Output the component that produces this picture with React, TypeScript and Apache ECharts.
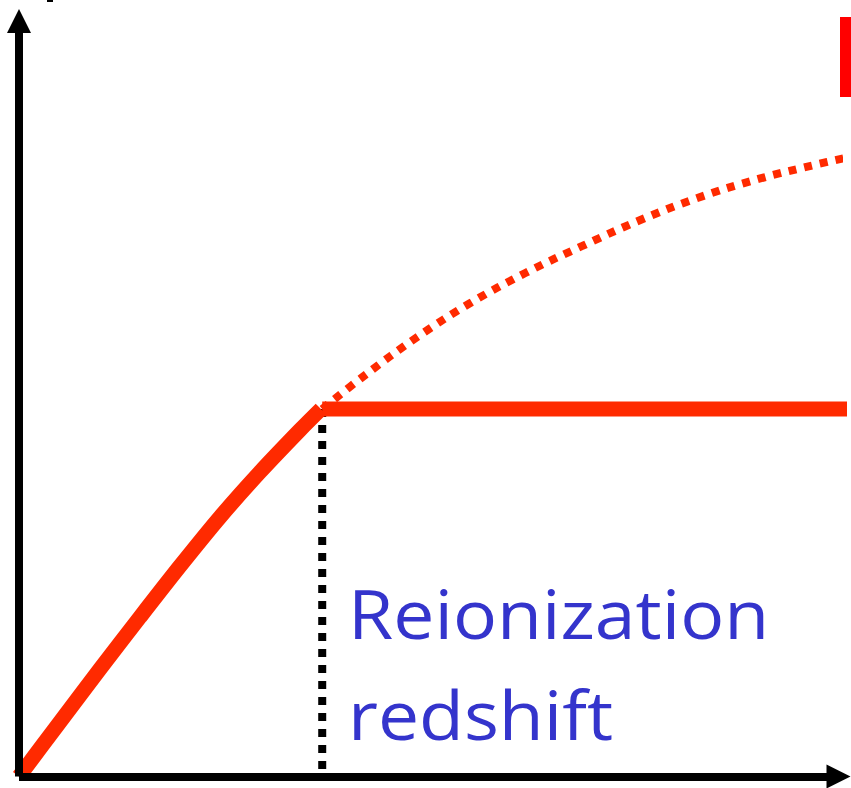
import React, { useEffect, useRef } from "react";
import * as echarts from "echarts";

// Schematic: optical depth vs redshift (arbitrary units, 0..10 on both axes)
const reionX = 3.7;
const plateauY = 4.864;
const risingCurve: [number, number][] = [
  [0, 0],
  [0.5, 0.721],
  [0.988, 1.423],
  [1.477, 2.111],
  [1.965, 2.786],
  [2.453, 3.434],
  [2.941, 4.03],
  [3.429, 4.586],
  [3.685, 4.864],
];
const plateauLine: [number, number][] = [
  [3.7, 4.864],
  [10.15, 4.864],
];
const extrapolatedCurve: [number, number][] = [
  [3.7, 4.864],
  [4.225, 5.315],
  [4.86, 5.817],
  [5.507, 6.267],
  [6.178, 6.664],
  [6.874, 7.022],
  [7.582, 7.366],
  [8.278, 7.657],
  [9.023, 7.909],
  [9.756, 8.107],
  [10.085, 8.187],
];
const reionMarker: [number, number][] = [
  [reionX, plateauY],
  [reionX, 0],
];
const labelLines = ["Reionization", "redshift"];

const RED = "#FF2A00";
const BLUE = "#3434CC";

export default function App() {
  const ref = useRef<HTMLDivElement>(null);
  useEffect(() => {
    if (!ref.current) return;
    const chart = echarts.init(ref.current, undefined, { renderer: "svg" });
    const axisCommon = {
      type: "value" as const,
      min: 0,
      max: 10,
      z: 10,
      axisLabel: { show: false },
      axisTick: { show: false },
      splitLine: { show: false },
      axisLine: {
        show: true,
        symbol: ["none", "triangle"],
        symbolSize: [24, 24],
        lineStyle: { color: "#000", width: 8, cap: "butt" },
      },
    };
    const textStyle = {
      fill: BLUE,
      fontFamily: "Open Sans",
      fontSize: 68,
      align: "left",
      verticalAlign: "middle",
    };
    chart.setOption({
      animation: false,
      backgroundColor: "#fff",
      grid: {
        left: 19,
        right: 12.5,
        top: 21,
        bottom: 11.5,
        containLabel: false,
        outerBoundsMode: "none",
      },
      xAxis: axisCommon,
      yAxis: axisCommon,
      series: [
        {
          type: "line",
          data: reionMarker,
          symbol: "none",
          clip: false,
          z: 1,
          lineStyle: { color: "#000", width: 8, type: [8, 8], cap: "butt" },
        },
        {
          type: "line",
          data: extrapolatedCurve,
          symbol: "none",
          smooth: 0.4,
          clip: false,
          z: 2,
          lineStyle: { color: RED, width: 8, type: [8, 8], cap: "butt" },
        },
        {
          type: "line",
          data: risingCurve,
          symbol: "none",
          smooth: 0.3,
          clip: false,
          z: 3,
          lineStyle: { color: RED, width: 15, cap: "butt", join: "round" },
        },
        {
          type: "line",
          data: plateauLine,
          symbol: "none",
          clip: false,
          z: 3,
          lineStyle: { color: RED, width: 15, cap: "butt" },
        },
      ],
      graphic: [
        {
          type: "text",
          x: 348,
          y: 613,
          scaleX: 1.078,
          style: { ...textStyle, text: labelLines[0] },
        },
        {
          type: "text",
          x: 348,
          y: 714,
          scaleX: 1.078,
          style: { ...textStyle, text: labelLines[1] },
        },
        {
          type: "rect",
          shape: { x: 840, y: 17, width: 11, height: 80 },
          style: { fill: "#FF0000" },
        },
        {
          type: "rect",
          shape: { x: 47, y: 0, width: 6, height: 2 },
          style: { fill: "#000" },
        },
      ],
    });
    return () => chart.dispose();
  }, []);
  return (
    <div
      ref={ref}
      style={{ position: "absolute", left: 0, top: 0, width: 851, height: 788 }}
    />
  );
}
